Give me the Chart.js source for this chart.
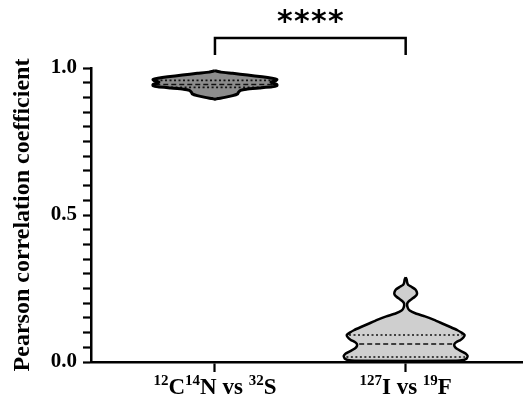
<!DOCTYPE html>
<html>
<head>
<meta charset="utf-8">
<script src="https://cdn.jsdelivr.net/npm/chart.js@4.4.0/dist/chart.umd.min.js"></script>
<style>
  html, body { margin: 0; padding: 0; background: #fff; }
  #wrap { width: 525px; height: 400px; }
</style>
</head>
<body>
<div id="wrap"><canvas id="c" width="525" height="400"></canvas></div>
<script>
// ---------------- data ----------------
// category labels as segments: [text, isSuperscript]
const categoryLabels = [
  [['12', true], ['C', false], ['14', true], ['N vs ', false], ['32', true], ['S', false]],
  [['127', true], ['I vs ', false], ['19', true], ['F', false]]
];
const categoryPositions = [1, 2];

// violin 1 (12C14N vs 32S): y values and relative density (half-width)
const violin1Y =       [0.991, 0.986, 0.982, 0.976, 0.970, 0.965, 0.961, 0.957, 0.952, 0.948, 0.944, 0.940, 0.936, 0.932, 0.928, 0.924, 0.918, 0.912, 0.906, 0.900, 0.896, 0.894];
const violin1Density = [0,     6,     18,    33,    48,    58,    63,    62,    57,    59,    63,    63,    58,    45,    32,    26,    24,    23,    18,    10,    3,     0];
const violin1Quartiles = [0.934, 0.944, 0.958]; // Q1, median, Q3

// violin 2 (127I vs 19F)
const violin2Y =       [0.288, 0.280, 0.270, 0.262, 0.255, 0.247, 0.238, 0.230, 0.222, 0.214, 0.206, 0.198, 0.185, 0.175, 0.165, 0.155, 0.143, 0.131, 0.119, 0.108, 0.100, 0.092, 0.084, 0.075, 0.068, 0.061, 0.054, 0.046, 0.038, 0.029, 0.020, 0.012, 0.007, 0.004];
const violin2Density = [0,     1,     1.5,   2.5,   6,     9.5,   11,    11,    9,     6,     3,     1.5,   2,     4,     10,    19,    28,    36,    44,    51,    55,    58,    57,    54,    50,    48,    48,    50,    54,    59,    61,    60,    57,    50];
const violin2Quartiles = [0.017, 0.061, 0.092];

const yTickLabels = [0.0, 0.5, 1.0];
const yTitle = 'Pearson correlation coefficient';
const significance = '****';

// ---------------- helpers ----------------
const MAX_HALF_WIDTH = 0.325; // in category units
const FONT = '"Liberation Serif", "Times New Roman", serif';

function violinPolygon(center, ys, dens) {
  const m = Math.max(...dens);
  const left = ys.map((y, i) => ({ x: center - dens[i] / m * MAX_HALF_WIDTH, y }));
  const right = ys.map((y, i) => ({ x: center + dens[i] / m * MAX_HALF_WIDTH, y })).reverse();
  const pts = left.concat(right);
  pts.push({ ...pts[0] });
  return pts;
}
function halfWidthAt(y, ys, dens) {
  const m = Math.max(...dens);
  for (let i = 0; i < ys.length - 1; i++) {
    const a = ys[i], b = ys[i + 1];
    if ((y <= a && y >= b)) {
      const t = (a - y) / (a - b);
      return (dens[i] + t * (dens[i + 1] - dens[i])) / m * MAX_HALF_WIDTH;
    }
  }
  return 0;
}
function quartileLine(center, y, ys, dens) {
  const w = halfWidthAt(y, ys, dens) - 0.012;
  return [{ x: center - w, y }, { x: center + w, y }];
}

const violins = [
  { c: categoryPositions[0], ys: violin1Y, d: violin1Density, q: violin1Quartiles, fill: '#8c8c8c', bw: 3 },
  { c: categoryPositions[1], ys: violin2Y, d: violin2Density, q: violin2Quartiles, fill: '#cfcfcf', bw: 2.5 }
];

const datasets = [];
violins.forEach(v => {
  const poly = violinPolygon(v.c, v.ys, v.d);
  datasets.push({ data: poly, showLine: true, fill: 'shape', backgroundColor: v.fill, borderWidth: 0,
    pointRadius: 0, tension: 0.15, order: 3, clip: false });
  v.q.forEach((qy, i) => {
    datasets.push({ data: quartileLine(v.c, qy, v.ys, v.d), showLine: true, fill: false,
      borderColor: '#111', borderWidth: 1.6, borderDash: i === 1 ? [5, 3] : [2, 2.5],
      pointRadius: 0, order: 2, clip: false });
  });
  datasets.push({ data: poly, showLine: true, fill: false, borderColor: '#000', borderWidth: v.bw,
    pointRadius: 0, tension: 0.15, order: 1, clip: false, borderJoinStyle: 'round' });
});

// ---------------- plugins ----------------
const xLabelPlugin = {
  id: 'xLabels',
  afterDraw(chart) {
    const ctx = chart.ctx;
    const xs = chart.scales.x;
    const base = 394;
    const mainF = 'bold 23px ' + FONT, supF = 'bold 15px ' + FONT;
    ctx.save();
    ctx.fillStyle = '#000';
    ctx.textBaseline = 'alphabetic';
    categoryLabels.forEach((segs, i) => {
      let total = 0;
      segs.forEach(([t, sup]) => { ctx.font = sup ? supF : mainF; total += ctx.measureText(t).width; });
      let x = xs.getPixelForValue(categoryPositions[i]) - total / 2;
      segs.forEach(([t, sup]) => {
        ctx.font = sup ? supF : mainF;
        ctx.textAlign = 'left';
        ctx.fillText(t, x, sup ? base - 9 : base);
        x += ctx.measureText(t).width;
      });
    });
    ctx.restore();
  }
};
const bracketPlugin = {
  id: 'bracket',
  afterDraw(chart) {
    const ctx = chart.ctx;
    const xs = chart.scales.x;
    const x1 = xs.getPixelForValue(categoryPositions[0]);
    const x2 = xs.getPixelForValue(categoryPositions[1]);
    const yTop = 38, yBot = 55;
    ctx.save();
    ctx.strokeStyle = '#000';
    ctx.lineWidth = 2.5;
    ctx.lineCap = 'butt';
    ctx.lineJoin = 'miter';
    ctx.beginPath();
    ctx.moveTo(x1, yBot); ctx.lineTo(x1, yTop); ctx.lineTo(x2, yTop); ctx.lineTo(x2, yBot);
    ctx.stroke();
    ctx.fillStyle = '#000';
    ctx.font = 'bold 30px "DejaVu Sans", sans-serif';
    ctx.textAlign = 'center';
    ctx.textBaseline = 'middle';
    const mid = (x1 + x2) / 2;
    const n = significance.length, step = 17;
    for (let i = 0; i < n; i++) {
      ctx.fillText(significance[i], mid + (i - (n - 1) / 2) * step, 23);
    }
    ctx.restore();
  }
};

// ---------------- chart ----------------
new Chart(document.getElementById('c'), {
  type: 'scatter',
  data: { datasets },
  options: {
    responsive: false,
    animation: false,
    events: [],
    layout: { padding: { top: 68, right: 3, left: 0, bottom: 0 } },
    plugins: { legend: { display: false }, tooltip: { enabled: false } },
    scales: {
      x: {
        type: 'linear', min: 0.35, max: 2.61,
        afterBuildTicks: s => { s.ticks = categoryPositions.map(v => ({ value: v })); },
        afterFit: s => { s.height = 38; },
        ticks: { display: false },
        grid: { drawOnChartArea: false, drawTicks: true, tickLength: 10, tickWidth: 2.2, color: '#000' },
        border: { display: true, color: '#000', width: 2.5 }
      },
      y: {
        type: 'linear', min: 0, max: 1,
        afterFit: s => { s.width = 91; },
        ticks: {
          stepSize: 0.05, autoSkip: false, padding: 6, color: '#000',
          font: { family: FONT, size: 21, weight: 'bold' },
          callback: v => {
            const hit = yTickLabels.find(t => Math.abs(t - v) < 1e-6);
            return hit === undefined ? '' : hit.toFixed(1);
          }
        },
        grid: { drawOnChartArea: false, drawTicks: true, tickLength: 8, tickWidth: 2.2, color: '#000' },
        border: { display: true, color: '#000', width: 2.5 },
        title: { display: true, text: yTitle, color: '#000', padding: { top: 8, bottom: 0 },
          font: { family: FONT, size: 24, weight: 'bold' } }
      }
    }
  },
  plugins: [xLabelPlugin, bracketPlugin]
});
</script>
</body>
</html>
